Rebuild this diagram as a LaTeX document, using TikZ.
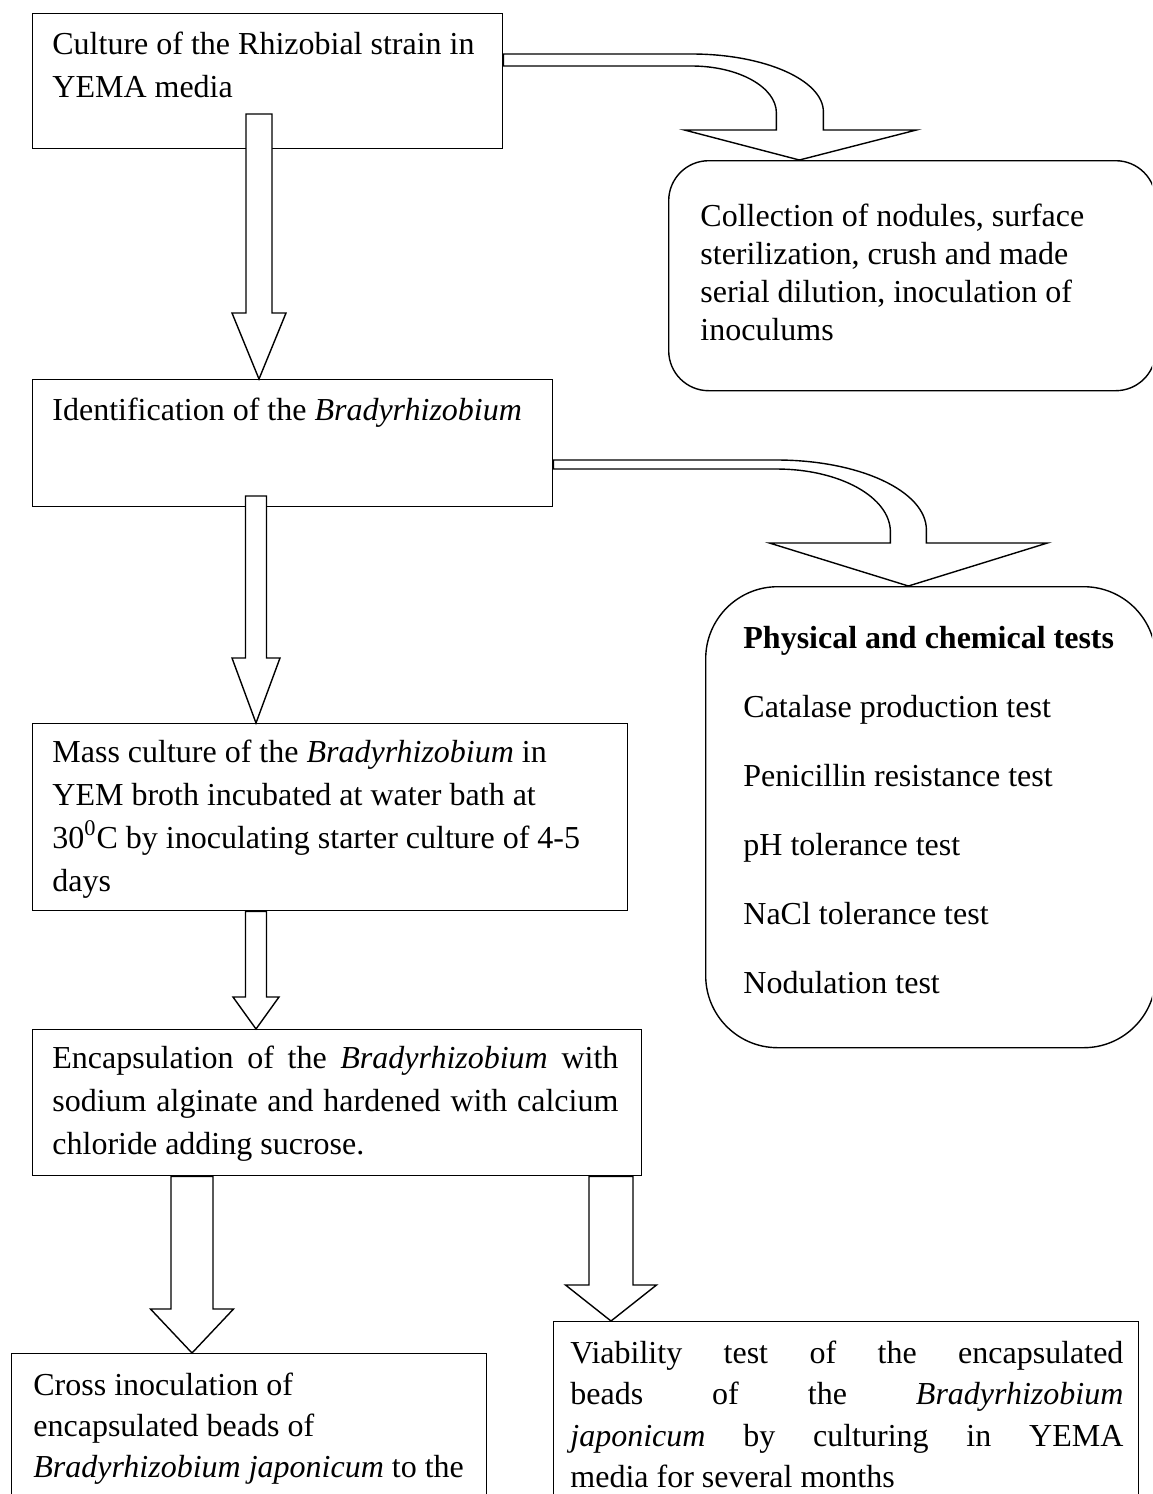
\documentclass[tikz,border=0pt]{standalone}
\usepackage{fontspec}
\setmainfont{Liberation Serif}
\usetikzlibrary{calc}

\tikzset{
  procbox/.style={draw, rectangle, line width=0.7pt, inner sep=0pt, anchor=north west},
  roundbox/.style={procbox, rounded corners=#1},
  boxtext/.style={anchor=base west, inner sep=0pt},
  blockarrow/.style={draw, fill=white, line width=0.7pt, line join=miter}
}

% text block of a box: width, baselineskip, text
\newcommand{\boxpar}[3]{\parbox[t]{#1}{\fontsize{16}{#2}\selectfont #3}}
% hollow arrow pointing down: tail, tip, half shaft, half head, head length
\newcommand{\blockdown}[5]{%
  \draw[blockarrow] let \p1=(#1), \p2=(#2) in
    (\x1-#3,\y1) -- (\x1+#3,\y1) -- (\x1+#3,\y2+#5) -- (\x1+#4,\y2+#5)
    -- (\x1,\y2) -- (\x1-#4,\y2+#5) -- (\x1-#3,\y2+#5) -- cycle;%
}

\begin{document}
\begin{tikzpicture}[x=0.5pt, y=-0.5pt]

    \useasboundingbox (0,0) rectangle (1152,1494);
    \clip (0,0) rectangle (1152,1494);

    % boxes
    \node[procbox, minimum width=235pt, minimum height=67.5pt] (culture) at (32,13) {};
    \node[roundbox=20pt, minimum width=243.5pt, minimum height=115pt] (collect) at (668,160) {};
    \node[procbox, minimum width=260pt, minimum height=63.5pt] (ident) at (32,379) {};
    \node[roundbox=36pt, minimum width=225pt, minimum height=230.5pt] (tests) at (705,586) {};
    \node[procbox, minimum width=297.5pt, minimum height=93.5pt] (mass) at (32,723) {};
    \node[procbox, minimum width=304.5pt, minimum height=73pt] (encap) at (32,1029) {};
    \node[procbox, minimum width=237.5pt, minimum height=90pt] (cross) at (11,1353) {};
    \node[procbox, minimum width=292.5pt, minimum height=100pt] (viab) at (553,1321) {};

    % texts
    \node[boxtext] (cultureText) at ([shift={(20,41)}]culture.north west)
        {\boxpar{230pt}{21.5pt}{\raggedright Culture of the Rhizobial strain in\\ YEMA media}};
    \node[boxtext] (collectText) at ([shift={(32,66)}]collect.north west)
        {\boxpar{215pt}{19pt}{\raggedright Collection of nodules, surface\\ sterilization, crush and made\\ serial dilution, inoculation of\\ inoculums}};
    \node[boxtext] (identText) at ([shift={(20,41)}]ident.north west)
        {\boxpar{240pt}{20pt}{\raggedright Identification of the \textit{Bradyrhizobium}}};
    \node[boxtext] (testsText) at ([shift={(38,62)}]tests.north west)
        {\boxpar{200pt}{34.5pt}{\raggedright \textbf{Physical and chemical tests}\\
            Catalase production test\\ Penicillin resistance test\\ pH tolerance test\\
            NaCl tolerance test\\ Nodulation test}};
    \node[boxtext] (massText) at ([shift={(20,39)}]mass.north west)
        {\boxpar{280pt}{21.5pt}{\raggedright Mass culture of the \textit{Bradyrhizobium} in\\
            YEM broth incubated at water bath at\\
            30\textsuperscript{0}C by inoculating starter culture of 4-5\\ days}};
    \node[boxtext] (encapText) at ([shift={(20,39)}]encap.north west)
        {\boxpar{283pt}{21.5pt}{Encapsulation of the \textit{Bradyrhizobium} with\linebreak
            sodium alginate and hardened with calcium\linebreak
            chloride adding sucrose.}};
    \node[boxtext] (crossText) at ([shift={(22,42)}]cross.north west)
        {\boxpar{220pt}{20.5pt}{\raggedright Cross inoculation of\\ encapsulated beads of\\
            \textit{Bradyrhizobium japonicum} to the}};
    \node[boxtext] (viabText) at ([shift={(17,42)}]viab.north west)
        {\boxpar{276.5pt}{20.75pt}{Viability test of the encapsulated\linebreak
            beads of the \textit{Bradyrhizobium}\linebreak
            \textit{japonicum} by culturing in YEMA\linebreak
            media for several months}};

    % bent arrows to the side boxes
    \draw[blockarrow] ([yshift=-20.5pt]culture.north east) -- ++(188,0)
        .. controls +(73,0) and +(0,-32) .. ++(132,58) -- ++(0,18) -- ++(93,0)
        -- ++(-117,30) -- ++(-115,-30) -- ++(92,0) -- ++(0,-17)
        .. controls +(0,-26) and +(47,0) .. ++(-85,-47) -- ++(-188,0) -- cycle;
    \draw[blockarrow] ([yshift=-40.5pt]ident.north east) -- ++(223,0)
        .. controls +(83,0) and +(0,-39) .. ++(150,70) -- ++(0,13) -- ++(121,0)
        -- ++(-139,43) -- ++(-139,-43) -- ++(121,0) -- ++(0,-11)
        .. controls +(0,-35) and +(63,0) .. ++(-114,-63) -- ++(-223,0) -- cycle;

    % straight arrows
    \coordinate (a1) at (259,114);
    \coordinate (a3) at (256,496);
    \coordinate (a4) at ([xshift=112pt]mass.south west);
    \coordinate (a5) at ([xshift=80pt]encap.south west);
    \coordinate (a6) at ([xshift=289.5pt]encap.south west);

    \blockdown{a1}{ident.north -| a1}{6.5pt}{13.5pt}{33pt}
    \blockdown{a3}{mass.north -| a3}{5.25pt}{12pt}{32.5pt}
    \blockdown{a4}{encap.north -| a4}{5.25pt}{11.5pt}{16pt}
    \blockdown{a5}{cross.north -| a5}{10.5pt}{20.75pt}{22pt}
    \blockdown{a6}{viab.north -| a6}{11pt}{22.75pt}{18pt}

\end{tikzpicture}
\end{document}
